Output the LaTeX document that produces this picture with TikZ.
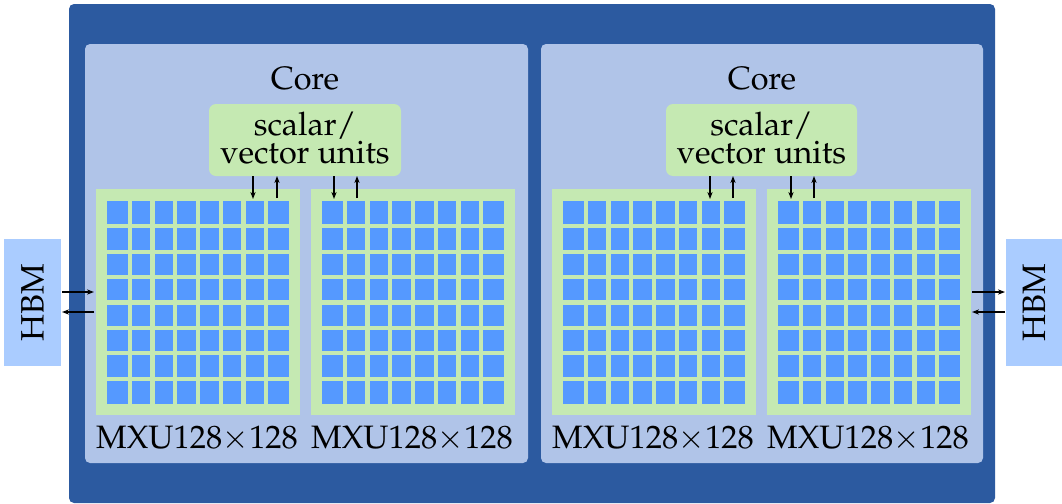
\documentclass[tikz,border=0pt]{standalone}
\usepackage[T1]{fontenc}
\usepackage{mathpazo}
\usetikzlibrary{arrows.meta}

\definecolor{chipblue}{HTML}{2C5AA0}
\definecolor{corefill}{HTML}{B0C4E8}
\definecolor{unitgreen}{HTML}{C5E9B2}
\definecolor{cellblue}{HTML}{5599FF}
\definecolor{hbmfill}{HTML}{AACCFF}

% one systolic array: blue block split into 8x8 cells by green lines
\newcommand\cellgrid[3]{%
  \node[gridbox] (#1) at (#2,#3) {};
  \foreach \i in {1,...,7} {
    \draw[gridline] (#2,#3+\i*25.375) -- (#2+182,#3+\i*25.375);
    \draw[gridline] (#2+\i*22.75,#3) -- (#2+\i*22.75,#3+203);
  }%
}

\begin{document}
\begin{tikzpicture}[x=0.5pt,y=-0.5pt,
  box/.style={anchor=north west, inner sep=0pt, outer sep=0pt, draw=none},
  chip/.style={box, fill=chipblue, rounded corners=2.5pt,
    minimum width=463pt, minimum height=249.5pt},
  corebox/.style={box, fill=corefill, rounded corners=2.5pt,
    minimum width=221.5pt, minimum height=209.5pt},
  unitbox/.style={box, fill=unitgreen, rounded corners=3.5pt,
    minimum width=96pt, minimum height=36pt, align=center, text depth=2pt,
    font=\fontsize{16.2}{10.5}\selectfont},
  mxubox/.style={box, fill=unitgreen, minimum width=102pt, minimum height=113pt},
  gridbox/.style={box, fill=cellblue, minimum width=91pt, minimum height=101.5pt},
  gridline/.style={draw=unitgreen, line width=2.1pt},
  hbmbox/.style={box, fill=hbmfill, minimum width=28.5pt, minimum height=63.5pt},
  txt/.style={font=\fontsize{16.2}{18}\selectfont, inner sep=0pt, anchor=base},
  link/.style={-{Stealth[length=3.5pt,width=2.6pt]}, line width=0.6pt, black},
]
\useasboundingbox (0,0) rectangle (1062,504);

% chip package
\node[chip] (chip) at (69,4) {};

% two cores
\node[corebox] (coreL) at (85,44) {};
\node[corebox, minimum width=221pt] (coreR) at (541,44) {};
\node[txt] (coreLt) at (305,89) {Core};
\node[txt] (coreRt) at (762,89) {Core};

% scalar / vector units
\node[unitbox] (svL) at (209,104) {scalar/\\vector units};
\node[unitbox, minimum width=95.5pt] (svR) at (666,104) {scalar/\\vector units};

% matrix units
\node[mxubox] (mxu1) at (96,189) {};
\node[mxubox] (mxu2) at (311,189) {};
\node[mxubox] (mxu3) at (552,189) {};
\node[mxubox] (mxu4) at (767,189) {};
\cellgrid{grid1}{107}{201}
\cellgrid{grid2}{322}{201}
\cellgrid{grid3}{563}{201}
\cellgrid{grid4}{778}{201}
\node[txt] (lab1) at (197,448) {MXU128$\times$128};
\node[txt] (lab2) at (412,448) {MXU128$\times$128};
\node[txt] (lab3) at (653,448) {MXU128$\times$128};
\node[txt] (lab4) at (868,448) {MXU128$\times$128};

% high bandwidth memory
\node[hbmbox] (hbmL) at (4,239) {};
\node[hbmbox, minimum width=28pt] (hbmR) at (1006,239) {};
\node[txt, anchor=center, rotate=90] at (hbmL.center) {HBM};
\node[txt, anchor=center, rotate=90] at (hbmR.center) {HBM};

% unit <-> matrix unit links
\coordinate (d1) at (253,0);  \coordinate (u1) at (277,0);
\coordinate (d2) at (334,0);  \coordinate (u2) at (357,0);
\coordinate (d3) at (710,0);  \coordinate (u3) at (733,0);
\coordinate (d4) at (791,0);  \coordinate (u4) at (814,0);
\draw[link, shorten >=1pt] (d1 |- svL.south) -- (d1 |- grid1.north);
\draw[link, shorten <=1.5pt] (u1 |- grid1.north) -- (u1 |- svL.south);
\draw[link, shorten >=1pt] (d2 |- svL.south) -- (d2 |- grid2.north);
\draw[link, shorten <=1.5pt] (u2 |- grid2.north) -- (u2 |- svL.south);
\draw[link, shorten >=1pt] (d3 |- svR.south) -- (d3 |- grid3.north);
\draw[link, shorten <=1.5pt] (u3 |- grid3.north) -- (u3 |- svR.south);
\draw[link, shorten >=1pt] (d4 |- svR.south) -- (d4 |- grid4.north);
\draw[link, shorten <=1.5pt] (u4 |- grid4.north) -- (u4 |- svR.south);

% memory links
\coordinate (hin) at (0,292);
\coordinate (hout) at (0,312);
\draw[link, shorten <=0.5pt, shorten >=1pt] (hin -| hbmL.east) -- (hin -| mxu1.west);
\draw[link, shorten <=1pt, shorten >=0.5pt] (hout -| mxu1.west) -- (hout -| hbmL.east);
\draw[link, shorten <=0.5pt, shorten >=0.5pt] (hin -| mxu4.east) -- (hin -| hbmR.west);
\draw[link, shorten <=0.5pt, shorten >=0.5pt] (hout -| hbmR.west) -- (hout -| mxu4.east);
\end{tikzpicture}
\end{document}
